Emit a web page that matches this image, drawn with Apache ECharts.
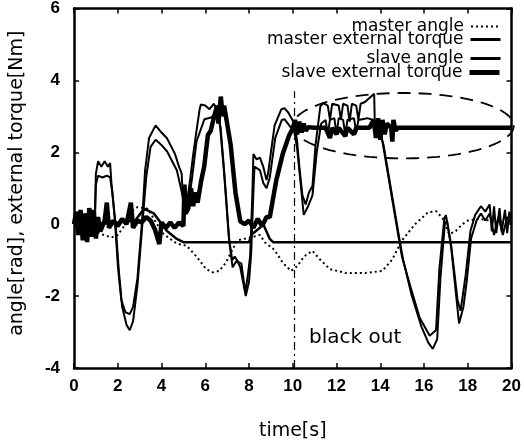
<!DOCTYPE html>
<html>
<head>
<meta charset="utf-8">
<script src="https://cdn.jsdelivr.net/npm/echarts@6/dist/echarts.min.js"></script>
<style>
  html, body { margin: 0; padding: 0; background: #fff; }
  #main { width: 524px; height: 446px; }
</style>
</head>
<body>
<div id="main"></div>
<script>
// values, [time s, value]
var xTicks = [0, 2, 4, 6, 8, 10, 12, 14, 16, 18, 20];
var yTicks = [-4, -2, 0, 2, 4, 6];

var masterAngle = [
  [0,0.0],[0.5,-0.1],[1.0,-0.2],[1.27,-0.28],[1.71,-0.37],[2.0,-0.3],[2.24,-0.1],[2.61,0.35],
  [2.91,0.48],[3.36,0.43],[3.7,0.1],[4.1,-0.28],[4.7,-0.54],[5.15,-0.6],[5.6,-0.9],[6.04,-1.25],
  [6.34,-1.34],[6.64,-1.3],[6.94,-1.07],[7.16,-0.81],[7.46,-0.45],[8.13,-0.36],[8.5,-0.3],
  [8.72,-0.5],[9.17,-0.72],[9.54,-1.07],[9.92,-1.3],[10.22,-1.16],[10.51,-0.9],[10.9,-0.74],
  [11.26,-0.99],[11.7,-1.25],[12.45,-1.36],[13.3,-1.36],[14.09,-1.3],[14.54,-0.99],[14.99,-0.45],
  [15.59,0.0],[16.18,0.33],[16.55,0.36],[16.85,0.17],[17.15,-0.28],[17.45,-0.19],[17.75,0.0],
  [18.0,0.1],[18.5,0.15],[19.0,0.1],[19.5,0.05],[20,0.05]
];

var masterTorque = [
  [0,0.0],[1,0.0],[2,0.05],[2.8,0.1],[3.2,0.43],[3.65,0.3],[4.25,-0.19],[4.7,-0.41],[5.0,-0.5],
  [8.0,-0.5],[8.13,-0.28],[8.5,-0.1],[8.65,0.0],[8.95,-0.41],[9.1,-0.5],[20,-0.5]
];

var slaveAngle = [
  [0,0.1],[0.2,0.3],[0.4,-0.2],[0.6,0.3],[0.8,-0.2],[0.95,0.1],[1.0,1.4],[1.1,1.75],[1.25,1.6],
  [1.4,1.75],[1.55,1.6],[1.65,1.7],[1.71,1.15],[1.87,0.1],[2.01,-1.2],[2.16,-2.1],[2.35,-2.45],
  [2.55,-2.5],[2.7,-2.3],[2.9,-1.5],[3.1,0.0],[3.25,1.5],[3.43,2.4],[3.73,2.75],[4.0,2.55],
  [4.25,2.39],[4.62,1.95],[4.8,1.6],[4.92,1.41],[5.0,0.5],[5.15,0.55],[5.3,1.2],[5.44,1.9],
  [5.6,2.6],[5.74,3.19],[5.8,3.33],[6.0,3.3],[6.19,3.2],[6.4,3.35],[6.64,3.0],[6.85,1.5],
  [7.08,-0.37],[7.23,-1.0],[7.35,-0.9],[7.5,-1.05],[7.65,-1.1],[7.83,-1.9],[7.95,-1.4],[8.05,-0.9],
  [8.15,0.8],[8.2,1.95],[8.35,1.8],[8.5,1.85],[8.65,1.6],[8.8,1.23],[8.87,1.41],[9.0,2.0],
  [9.17,2.75],[9.47,3.19],[9.62,3.23],[9.8,3.1],[9.92,2.97],[10.07,2.8],[10.2,2.3],[10.3,1.6],
  [10.44,0.8],[10.59,0.55],[10.74,0.88],[10.9,1.06],[11.04,2.2],[11.26,3.28],[11.4,3.37],
  [11.6,3.3],[11.7,2.9],[11.8,3.35],[12.1,3.3],[12.2,2.9],[12.3,3.35],[12.5,3.3],[12.6,2.85],
  [12.7,3.35],[12.9,3.3],[13.0,2.9],[13.1,3.35],[13.3,3.4],[13.72,3.63],[13.75,2.8],[14.0,2.6],
  [14.1,2.3],[14.84,-0.37],[14.99,-0.9],[15.36,-1.7],[15.8,-2.6],[16.26,-3.1],[16.55,-2.94],
  [16.7,-1.25],[16.93,0.17],[17.0,0.25],[17.23,-0.54],[17.53,-2.1],[17.67,-2.41],[17.9,-1.43],
  [18.12,-0.19],[18.34,0.26],[18.6,0.5],[18.8,0.35],[19.0,0.55],[19.1,-0.2],[19.2,0.5],
  [19.3,-0.25],[19.45,0.45],[19.55,-0.2],[19.7,0.4],[19.8,-0.25],[19.9,0.35],[20,0.1]
];

// second (lower) trace of the slave angle curve
var slaveAngleLower = [
  [0,0.0],[0.95,0.0],[1.0,1.1],[1.1,1.35],[1.3,1.3],[1.5,1.35],[1.65,1.3],[1.75,0.9],[1.9,0.0],
  [2.05,-1.3],[2.2,-2.3],[2.4,-2.8],[2.55,-2.95],[2.7,-2.7],[2.9,-1.7],[3.1,-0.2],[3.3,1.3],
  [3.5,2.15],[3.73,2.35],[4.0,2.2],[4.25,2.03],[4.7,1.5],[4.9,0.97],[5.05,0.5],[5.2,0.4],
  [5.4,1.3],[5.6,2.3],[5.96,2.92],[6.26,2.97],[6.5,3.1],[6.7,2.7],[6.9,1.2],[7.1,-0.5],
  [7.25,-1.2],[7.45,-1.0],[7.6,-1.2],[7.85,-2.0],[8.0,-1.6],[8.1,-0.8],[8.2,0.9],[8.25,1.6],
  [8.5,1.5],[8.65,1.15],[8.8,1.0],[8.95,1.3],[9.2,2.4],[9.5,2.9],[9.62,2.92],[9.9,2.7],
  [10.07,2.57],[10.2,2.1],[10.35,1.2],[10.5,0.26],[10.7,0.5],[10.9,0.8],[11.1,2.03],[11.3,2.8],
  [11.5,2.9],[11.6,2.5],[11.7,2.9],[11.9,2.95],[12.0,2.5],[12.1,2.95],[12.3,2.9],[12.4,2.5],
  [12.5,2.9],[12.8,2.95],[12.9,2.55],[13.0,2.9],[13.4,2.95],[13.7,2.9],[14.0,2.5],[14.15,2.2],
  [14.9,-0.5],[15.05,-1.0],[15.43,-1.97],[15.88,-2.85],[16.2,-3.3],[16.4,-3.47],[16.6,-3.2],
  [16.75,-1.5],[16.95,0.0],[17.05,0.1],[17.25,-0.7],[17.6,-2.76],[17.8,-2.3],[17.95,-1.6],
  [18.15,-0.4],[18.4,0.1],[18.6,0.3],[18.8,0.1],[19.0,0.3],[19.2,-0.3],[19.4,0.2],[19.6,-0.3],
  [19.8,0.2],[20,0.0]
];

var slaveTorque = [
  [0,0],[0.1,0.35],[0.2,-0.3],[0.3,0.4],[0.4,-0.45],[0.5,0.3],[0.6,-0.5],[0.7,0.45],[0.8,-0.35],
  [0.9,0.4],[1.0,-0.4],[1.1,0.2],[1.2,-0.2],[1.4,0.1],[1.5,0.6],[1.6,-0.1],[1.8,0.1],[2.0,-0.05],
  [2.2,0.15],[2.4,0.0],[2.6,0.6],[2.7,-0.1],[2.9,0.1],[3.1,0.05],[3.3,0.2],[3.5,0.1],[3.7,-0.15],
  [3.9,-0.55],[4.0,0.05],[4.2,-0.1],[4.4,0.05],[4.6,-0.1],[4.8,0.05],[5.0,-0.05],[5.05,1.1],
  [5.1,0.3],[5.22,0.43],[5.35,1.0],[5.45,0.5],[5.52,0.88],[5.65,0.6],[5.82,1.23],[5.95,1.6],
  [6.12,2.48],[6.25,2.6],[6.41,3.01],[6.55,3.3],[6.6,2.8],[6.71,3.55],[6.8,3.0],[6.86,3.3],
  [7.0,2.8],[7.16,2.21],[7.38,0.88],[7.6,0.08],[7.8,0.0],[8.0,0.1],[8.2,-0.1],[8.4,0.15],
  [8.6,-0.05],[8.8,0.2],[8.95,0.2],[9.25,1.23],[9.54,1.95],[9.84,2.48],[10.0,2.66],[10.1,2.9],
  [10.2,2.5],[10.3,2.85],[10.4,2.55],[10.5,2.8],[10.6,2.6],[10.7,2.7],[11.0,2.68],[11.5,2.68],
  [11.7,2.4],[11.8,2.68],[12.0,2.5],[12.1,2.68],[12.4,2.45],[12.5,2.68],[12.8,2.5],[12.9,2.68],
  [13.5,2.68],[13.7,2.9],[13.8,2.4],[13.9,2.95],[14.0,2.35],[14.1,2.9],[14.2,2.5],[14.3,2.8],
  [14.5,2.68],[14.55,2.3],[14.6,2.9],[14.7,2.6],[14.8,2.68],[20,2.68]
];

// annotations (data coordinates)
var blackoutTime = 10.05;
var blackoutTop = 3.7;
var ellipseCenter = [15.05, 2.74];
var ellipseRadius = [5.05, 0.91];
var blackoutLabelAt = [12.85, -3.15];

var font = 'DejaVu Sans';
var tickFont = { fontFamily: 'Liberation Sans', fontWeight: 'bold', fontSize: 17, color: '#000' };

var myChart = echarts.init(document.getElementById('main'));

function axisBase(min, max, show) {
  return {
    type: 'value', min: min, max: max, interval: 2,
    axisLine: { show: true, onZero: false, lineStyle: { color: '#000', width: 2.5 } },
    axisTick: { show: true, inside: true, length: 5, lineStyle: { color: '#000', width: 1.5 } },
    axisLabel: show ? Object.assign({ margin: 10 }, tickFont) : { show: false },
    splitLine: { show: false }
  };
}

var xBottom = axisBase(0, 20, true);
xBottom.position = 'bottom';
xBottom.name = 'time[s]';
xBottom.nameLocation = 'middle';
xBottom.nameGap = 54;
xBottom.nameTextStyle = { fontFamily: font, fontSize: 19, color: '#000' };
var xTop = axisBase(0, 20, false);
xTop.position = 'top';

var yLeft = axisBase(-4, 6, true);
yLeft.position = 'left';
yLeft.axisLabel.margin = 14;
yLeft.name = 'angle[rad], external torque[Nm]';
yLeft.nameLocation = 'middle';
yLeft.nameGap = 47;
yLeft.nameTextStyle = { fontFamily: font, fontSize: 19, color: '#000', padding: [0, 0, 0, 10] };
var yRight = axisBase(-4, 6, false);
yRight.position = 'right';

function legendFor(name, top, lineWidth) {
  return {
    data: [name], right: 22, top: top, align: 'right', orient: 'vertical',
    itemWidth: 30, itemHeight: 10, padding: 0, selectedMode: false,
    itemStyle: { opacity: 0 },
    lineStyle: { width: lineWidth },
    textStyle: { fontFamily: font, fontSize: 17, color: '#000', padding: [0, 2, 0, 0] }
  };
}

var option = {
  animation: false,
  backgroundColor: '#fff',
  color: ['#000'],
  grid: { left: 70, right: 7, top: 7, bottom: 64, containLabel: false },
  legend: [
    legendFor('master angle', 18, 2),
    legendFor('master external torque', 31, 3),
    legendFor('slave angle', 50, 3),
    legendFor('slave external torque', 64, 5)
  ],
  xAxis: [xBottom, xTop],
  yAxis: [yLeft, yRight],
  series: [
    {
      name: 'master angle', type: 'line', data: masterAngle, showSymbol: false, symbol: 'none',
      itemStyle: { color: '#000' },
      lineStyle: { color: '#000', width: 2, type: [2, 3] }
    },
    {
      name: 'master external torque', type: 'line', data: masterTorque, showSymbol: false, symbol: 'none',
      itemStyle: { color: '#000' },
      lineStyle: { color: '#000', width: 2.5 }
    },
    {
      name: 'slave angle', type: 'line', data: slaveAngle, showSymbol: false, symbol: 'none',
      itemStyle: { color: '#000' },
      lineStyle: { color: '#000', width: 2 }
    },
    {
      name: 'slave angle', type: 'line', data: slaveAngleLower, showSymbol: false, symbol: 'none',
      itemStyle: { color: '#000' },
      lineStyle: { color: '#000', width: 2 }
    },
    {
      name: 'slave external torque', type: 'line', data: slaveTorque, showSymbol: false, symbol: 'none',
      itemStyle: { color: '#000' },
      lineStyle: { color: '#000', width: 4.5 },
      markLine: {
        silent: true, symbol: 'none', label: { show: false },
        lineStyle: { color: '#000', width: 1.2, type: [8, 4, 2, 4] },
        data: [[{ coord: [blackoutTime, -4] }, { coord: [blackoutTime, blackoutTop] }]]
      }
    }
  ]
};

myChart.setOption(option);

// dashed ellipse and the "black out" note, placed through the axes
var c = myChart.convertToPixel({ gridIndex: 0 }, ellipseCenter);
var e = myChart.convertToPixel({ gridIndex: 0 }, [ellipseCenter[0] + ellipseRadius[0], ellipseCenter[1] - ellipseRadius[1]]);
var rx = e[0] - c[0], ry = e[1] - c[1];
var pts = [];
for (var k = 0; k <= 90; k++) {
  var a = k / 90 * Math.PI * 2;
  pts.push([c[0] + rx * Math.cos(a), c[1] + ry * Math.sin(a)]);
}
var lp = myChart.convertToPixel({ gridIndex: 0 }, blackoutLabelAt);
myChart.setOption({
  graphic: [
    {
      type: 'polyline', silent: true, z: 10,
      shape: { points: pts },
      style: { stroke: '#000', lineWidth: 1.8, fill: null, lineDash: [13, 8] }
    },
    {
      type: 'text', silent: true, z: 10, x: lp[0], y: lp[1],
      style: { text: 'black out', fontFamily: font, fontSize: 20, fill: '#000', align: 'center', verticalAlign: 'middle' }
    }
  ]
});
</script>
</body>
</html>
